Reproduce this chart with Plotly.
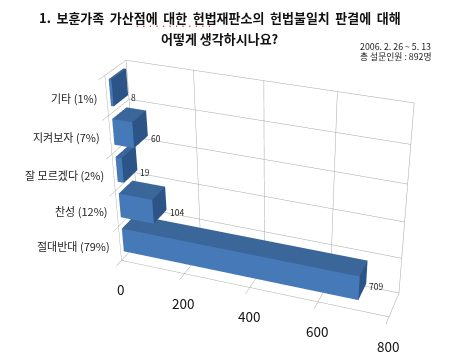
import plotly.graph_objects as go

categories = ["절대반대 (79%)", "찬성 (12%)", "잘 모르겠다 (2%)", "지켜보자 (7%)", "기타 (1%)"]
values = [709, 104, 19, 60, 8]
value_ticks = [0, 200, 400, 600, 800]

FONT = "Noto Sans CJK KR"

# Camera fitted to the reference's wall corners. Plotly's perspective is a fixed 45 degrees,
# centred on the scene, so the scene is larger than the window and is shifted up to match.
EYE = (1.6157, -4.1446, 2.4853)
CENTER = (0.0801, 0.7887, -0.2849)
UP = (-0.3579, 1.0307, 1.0)
ASPECT = (1.6165, 0.2338, 1.1686)
LH, CY, CX = 772.164, 171.8726, 313.887
LW = 2*CX
TOP = CY-LH/2


def px(x):
    return x/LW


def py(y):
    return 1-(y-TOP)/LH


fig = go.Figure()
front, top, side = "#4679b8", "#3a6699", "#2c5487"
y0, y1 = 0.15, 0.85
for i, v in enumerate(values):
    z0, z1 = i+.18, i+.85
    xs = [0, v, v, 0, 0, v, v, 0]
    ys = [y0, y0, y1, y1, y0, y0, y1, y1]
    zs = [z0, z0, z0, z0, z1, z1, z1, z1]
    I = [0, 0, 4, 4, 1, 1, 3, 3, 0, 0, 2, 2]
    J = [1, 5, 5, 6, 2, 6, 0, 4, 3, 2, 3, 7]
    K = [5, 4, 6, 7, 6, 5, 4, 7, 2, 1, 7, 6]
    cols = [front]*2+[top]*2+[side]*2+[top]*2+[top]*2+[side]*2
    fig.add_trace(go.Mesh3d(x=xs, y=ys, z=zs, i=I, j=J, k=K, facecolor=cols, flatshading=True,
                            lighting=dict(ambient=1, diffuse=0, specular=0, fresnel=0, roughness=1),
                            hoverinfo="skip"))

ann3d = []
for i, c in enumerate(categories):
    ann3d.append(dict(x=0, y=0, z=i+.5, text=c, showarrow=False, xanchor="right", xshift=-8, yshift=-2,
                      font=dict(family=FONT, size=11, color="#222")))
    ann3d.append(dict(x=values[i], y=0.85, z=i+.15, text=str(values[i]), showarrow=False, xanchor="left",
                      xshift=1, yshift=-1, font=dict(family=FONT, size=8.5, color="#222")))
for t in value_ticks:
    ann3d.append(dict(x=t, y=0, z=0, text=str(t), showarrow=False, yshift=-29, xshift=-1,
                      font=dict(family=FONT, size=13.5, color="#111")))

ax = dict(showbackground=False, showticklabels=False, title="", showgrid=True, gridcolor="#a6a6a6",
          gridwidth=1, zeroline=False, showline=False, showspikes=False, ticks="")
tk = dict(ticks="outside", ticklen=5, tickwidth=1, tickcolor="#a6a6a6")
fig.update_layout(
    width=LW, height=LH, margin=dict(l=0, r=0, t=0, b=0), paper_bgcolor="white", showlegend=False,
    scene=dict(domain=dict(x=[0, 1], y=[0, 1]),
               camera=dict(eye=dict(x=EYE[0], y=EYE[1], z=EYE[2]),
                           center=dict(x=CENTER[0], y=CENTER[1], z=CENTER[2]),
                           up=dict(x=UP[0], y=UP[1], z=UP[2])),
               aspectmode="manual",
               aspectratio=dict(x=ASPECT[0], y=ASPECT[1], z=ASPECT[2]),
               xaxis=dict(ax, range=[0, 800], tickvals=value_ticks, **tk),
               yaxis=dict(ax, range=[0, 1], tickvals=[0, 1]),
               zaxis=dict(ax, range=[0, 5], tickvals=list(range(6)), **tk),
               annotations=ann3d),
    annotations=[
        dict(x=px(220), y=py(17.5), xref="paper", yref="paper", yanchor="middle",
             text="<b>1.\u2009 보훈가족\u2009 가산점에\u2009 대한\u2009 헌법재판소의\u2009 헌법불일치\u2009 판결에\u2009 대해</b>",
             showarrow=False, font=dict(family=FONT, size=13, color="#111")),
        dict(x=px(220), y=py(38.5), xref="paper", yref="paper", yanchor="middle", text="<b>어떻게 생각하시나요?</b>",
             showarrow=False, font=dict(family=FONT, size=13, color="#111")),
        dict(x=px(133), y=py(25), xref="paper", yref="paper", yanchor="middle", showarrow=False,
             text="<b>· · · · · · · · · · · ·</b>", font=dict(family=FONT, size=8, color="#e02020")),
        dict(x=px(358), y=py(46.7), xref="paper", yref="paper", xanchor="left", yanchor="middle",
             text="2006. 2. 26 ~ 5. 13", showarrow=False, font=dict(family=FONT, size=8.8, color="#222")),
        dict(x=px(358), y=py(56.7), xref="paper", yref="paper", xanchor="left", yanchor="middle",
             text="총 설문인원 : 892명", showarrow=False, font=dict(family=FONT, size=8.8, color="#222")),
    ],
)
fig.write_html("out.html", config=dict(displayModeBar=False), post_script=
    "document.documentElement.style.overflow='hidden';document.body.style.overflow='hidden';"
    "document.body.style.margin='0';document.getElementById('{plot_id}').style.marginTop='%dpx';" % round(TOP))
